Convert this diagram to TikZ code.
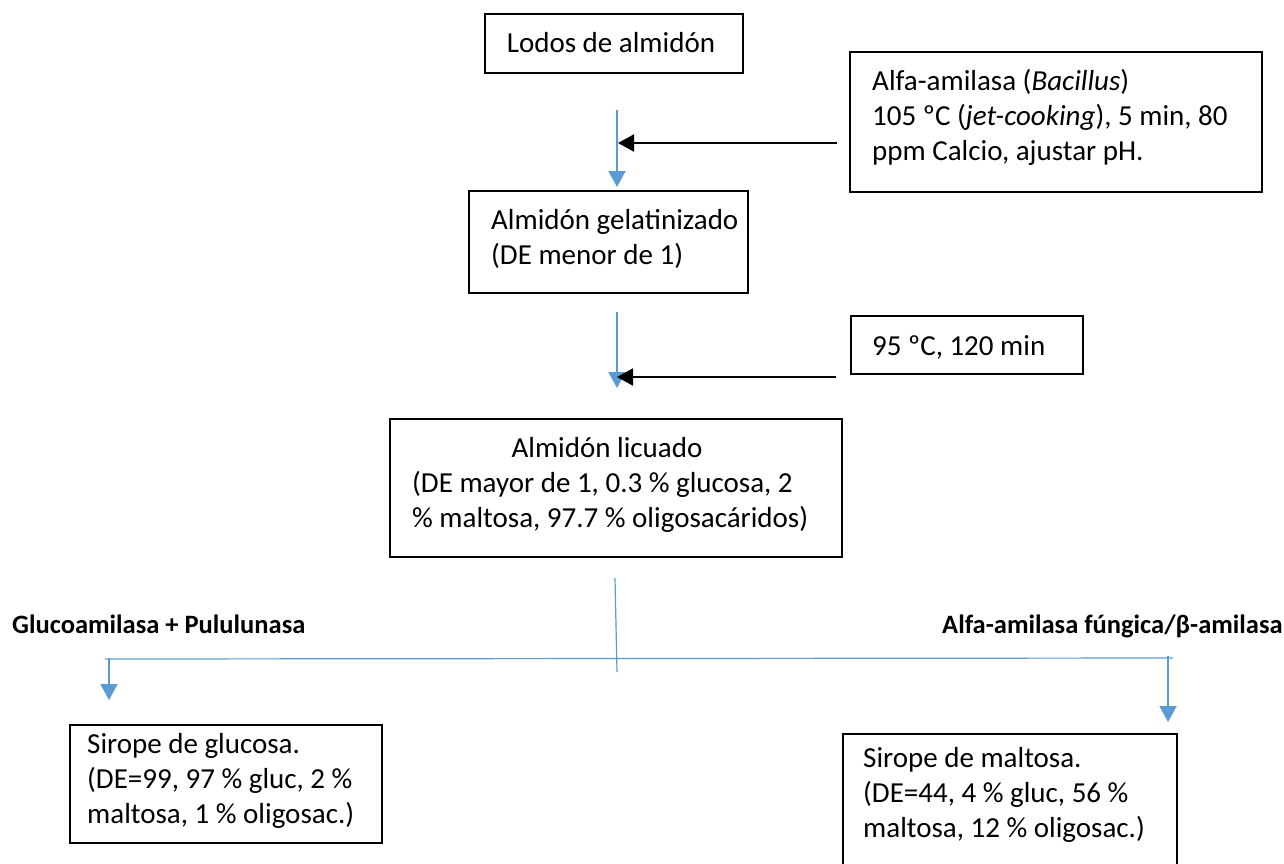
\documentclass[tikz,border=0pt]{standalone}
\usepackage{fontspec}
\setmainfont{Carlito}
\usetikzlibrary{arrows.meta}
\definecolor{flowblue}{HTML}{5B9BD5}
% strut that fixes the height of the first line of each text block
\newcommand\firstline{\rule{0pt}{24pt}}
\begin{document}
\begin{tikzpicture}[x=1pt,y=-1pt,
  box/.style={draw=black, line width=1.6pt, inner sep=0pt},
  txt/.style={inner sep=0pt, align=left, font=\fontsize{29}{35}\selectfont, anchor=north west},
  line/.style={inner sep=0pt, font=\fontsize{29}{35}\selectfont},
  lbl/.style={inner sep=0pt, font=\fontsize{26.5}{32}\selectfont\bfseries, anchor=base west},
  flow/.style={draw=flowblue, line width=2pt, -{Triangle[width=17pt,length=16pt]}},
  feed/.style={draw=black, line width=2pt, -{Triangle[width=17pt,length=16pt]}},
  split/.style={draw=flowblue, line width=1.2pt}]
\useasboundingbox (0,0) rectangle (1284,863);
\clip (0,0) rectangle (1284,863);

% process boxes
\node[box, minimum width=258pt, minimum height=59pt]  (lodos)   at (614,43.5) {};
\node[box, minimum width=412pt, minimum height=140pt] (alfa)    at (1056,122) {};
\node[box, minimum width=279pt, minimum height=102pt] (gel)     at (608.5,242) {};
\node[box, minimum width=232pt, minimum height=58pt]  (cond)    at (967,345) {};
\node[box, minimum width=452pt, minimum height=138pt] (licuado) at (616,488) {};
\node[box, minimum width=312pt, minimum height=118pt] (glucosa) at (226,784) {};
\node[box, minimum width=334pt, minimum height=134pt] (maltosa) at (1010,801) {};

% box texts
\node[line, anchor=base] (lodosT) at (611,52) {Lodos de almidón};
\node[txt] (alfaT) at (872,66) {\firstline Alfa-amilasa (\textit{Bacillus})\\105 ºC (\textit{jet-cooking}), 5 min, 80\\ppm Calcio, ajustar pH.};
\node[txt] (gelT) at (491,205) {\firstline Almidón gelatinizado\\(DE menor de 1)};
\node[line, anchor=base west] (condT) at (872,355) {95 ºC, 120 min};
\node[line, anchor=base] (licT) at (607,457) {Almidón licuado};
\node[txt] (licT2) at (412,468) {\firstline (DE mayor de 1, 0.3 \% glucosa, 2\\\% maltosa, 97.7 \% oligosacáridos)};
\node[txt] (glucT) at (87,729) {\firstline Sirope de glucosa.\\(DE=99, 97 \% gluc, 2 \%\\maltosa, 1 \% oligosac.)};
\node[txt] (maltT) at (863,743) {\firstline Sirope de maltosa.\\(DE=44, 4 \% gluc, 56 \%\\maltosa, 12 \% oligosac.)};

% enzyme labels
\node[lbl] (enzL) at (12,633) {Glucoamilasa + Pululunasa};
\node[lbl] (enzR) at (942,633) {Alfa-amilasa fúngica/β-amilasa};

% connector ends
\coordinate (f1s) at (617,110);  \coordinate (f1e) at (617,187);
\coordinate (k1s) at (837,143);  \coordinate (k1e) at (618,143);
\coordinate (f2s) at (617,312);  \coordinate (f2e) at (617,388);
\coordinate (k2s) at (836,377);  \coordinate (k2e) at (617,377);
\coordinate (vs)  at (615,578);  \coordinate (ve)  at (617,672);
\coordinate (hl)  at (105,659);  \coordinate (hr)  at (1173,658);
\coordinate (las) at (109,658);  \coordinate (lae) at (109,700);
\coordinate (ras) at (1168,656); \coordinate (rae) at (1168,722);

% main flow
\draw[flow] (f1s) -- (f1e);
\draw[feed] (k1s) -- (k1e);
\draw[flow] (f2s) -- (f2e);
\draw[feed] (k2s) -- (k2e);

% branching
\draw[split] (vs) -- (ve);
\draw[split] (hl) -- (hr);
\draw[flow] (las) -- (lae);
\draw[flow] (ras) -- (rae);
\end{tikzpicture}
\end{document}
